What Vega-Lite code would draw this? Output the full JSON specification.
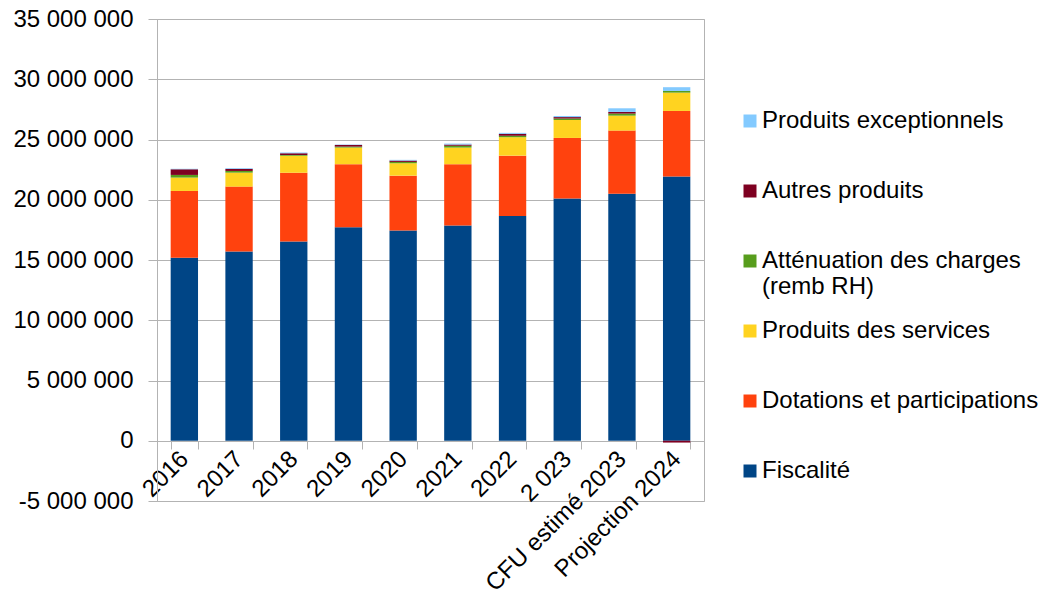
{
  "$schema": "https://vega.github.io/schema/vega-lite/v6.json",
  "width": 547,
  "height": 482,
  "autosize": "none",
  "padding": {"left": 157, "top": 19, "right": 345, "bottom": 107},
  "background": "white",
  "config": {
    "locale": {"number": {"decimal": ",", "thousands": " ", "grouping": [3], "currency": ["", " €"], "minus": "-"}},
    "font": "Liberation Sans",
    "view": {"stroke": "#b3b3b3", "strokeWidth": 1}
  },
  "data": {
    "values": [
      {"annee": "2016", "categorie": "Fiscalité", "valeur": 15180000},
      {"annee": "2016", "categorie": "Dotations et participations", "valeur": 5550000},
      {"annee": "2016", "categorie": "Produits des services", "valeur": 1110000},
      {"annee": "2016", "categorie": "Atténuation des charges (remb RH)", "valeur": 220000},
      {"annee": "2016", "categorie": "Autres produits", "valeur": 470000},
      {"annee": "2016", "categorie": "Produits exceptionnels", "valeur": 40000},
      {"annee": "2017", "categorie": "Fiscalité", "valeur": 15700000},
      {"annee": "2017", "categorie": "Dotations et participations", "valeur": 5390000},
      {"annee": "2017", "categorie": "Produits des services", "valeur": 1160000},
      {"annee": "2017", "categorie": "Atténuation des charges (remb RH)", "valeur": 140000},
      {"annee": "2017", "categorie": "Autres produits", "valeur": 170000},
      {"annee": "2017", "categorie": "Produits exceptionnels", "valeur": 60000},
      {"annee": "2018", "categorie": "Fiscalité", "valeur": 16530000},
      {"annee": "2018", "categorie": "Dotations et participations", "valeur": 5720000},
      {"annee": "2018", "categorie": "Produits des services", "valeur": 1410000},
      {"annee": "2018", "categorie": "Atténuation des charges (remb RH)", "valeur": 60000},
      {"annee": "2018", "categorie": "Autres produits", "valeur": 140000},
      {"annee": "2018", "categorie": "Produits exceptionnels", "valeur": 60000},
      {"annee": "2019", "categorie": "Fiscalité", "valeur": 17720000},
      {"annee": "2019", "categorie": "Dotations et participations", "valeur": 5230000},
      {"annee": "2019", "categorie": "Produits des services", "valeur": 1380000},
      {"annee": "2019", "categorie": "Atténuation des charges (remb RH)", "valeur": 80000},
      {"annee": "2019", "categorie": "Autres produits", "valeur": 140000},
      {"annee": "2019", "categorie": "Produits exceptionnels", "valeur": 30000},
      {"annee": "2020", "categorie": "Fiscalité", "valeur": 17440000},
      {"annee": "2020", "categorie": "Dotations et participations", "valeur": 4560000},
      {"annee": "2020", "categorie": "Produits des services", "valeur": 1030000},
      {"annee": "2020", "categorie": "Atténuation des charges (remb RH)", "valeur": 110000},
      {"annee": "2020", "categorie": "Autres produits", "valeur": 110000},
      {"annee": "2020", "categorie": "Produits exceptionnels", "valeur": 60000},
      {"annee": "2021", "categorie": "Fiscalité", "valeur": 17860000},
      {"annee": "2021", "categorie": "Dotations et participations", "valeur": 5090000},
      {"annee": "2021", "categorie": "Produits des services", "valeur": 1380000},
      {"annee": "2021", "categorie": "Atténuation des charges (remb RH)", "valeur": 150000},
      {"annee": "2021", "categorie": "Autres produits", "valeur": 100000},
      {"annee": "2021", "categorie": "Produits exceptionnels", "valeur": 80000},
      {"annee": "2022", "categorie": "Fiscalité", "valeur": 18660000},
      {"annee": "2022", "categorie": "Dotations et participations", "valeur": 5000000},
      {"annee": "2022", "categorie": "Produits des services", "valeur": 1530000},
      {"annee": "2022", "categorie": "Atténuation des charges (remb RH)", "valeur": 120000},
      {"annee": "2022", "categorie": "Autres produits", "valeur": 160000},
      {"annee": "2022", "categorie": "Produits exceptionnels", "valeur": 80000},
      {"annee": "2 023", "categorie": "Fiscalité", "valeur": 20100000},
      {"annee": "2 023", "categorie": "Dotations et participations", "valeur": 5030000},
      {"annee": "2 023", "categorie": "Produits des services", "valeur": 1490000},
      {"annee": "2 023", "categorie": "Atténuation des charges (remb RH)", "valeur": 120000},
      {"annee": "2 023", "categorie": "Autres produits", "valeur": 120000},
      {"annee": "2 023", "categorie": "Produits exceptionnels", "valeur": 90000},
      {"annee": "CFU estimé 2023", "categorie": "Fiscalité", "valeur": 20490000},
      {"annee": "CFU estimé 2023", "categorie": "Dotations et participations", "valeur": 5250000},
      {"annee": "CFU estimé 2023", "categorie": "Produits des services", "valeur": 1240000},
      {"annee": "CFU estimé 2023", "categorie": "Atténuation des charges (remb RH)", "valeur": 170000},
      {"annee": "CFU estimé 2023", "categorie": "Autres produits", "valeur": 140000},
      {"annee": "CFU estimé 2023", "categorie": "Produits exceptionnels", "valeur": 300000},
      {"annee": "Projection 2024", "categorie": "Fiscalité", "valeur": 21920000},
      {"annee": "Projection 2024", "categorie": "Dotations et participations", "valeur": 5450000},
      {"annee": "Projection 2024", "categorie": "Produits des services", "valeur": 1520000},
      {"annee": "Projection 2024", "categorie": "Atténuation des charges (remb RH)", "valeur": 140000},
      {"annee": "Projection 2024", "categorie": "Autres produits", "valeur": -150000},
      {"annee": "Projection 2024", "categorie": "Produits exceptionnels", "valeur": 310000}
    ]
  },
  "transform": [
    {"calculate": "indexof(['Fiscalité','Dotations et participations','Produits des services','Atténuation des charges (remb RH)','Autres produits','Produits exceptionnels'], datum.categorie)", "as": "ordre"}
  ],
  "mark": {"type": "bar"},
  "encoding": {
    "x": {
      "field": "annee",
      "type": "nominal",
      "sort": null,
      "scale": {"paddingInner": 0.5, "paddingOuter": 0.25},
      "axis": {
        "title": null,
        "offset": -60,
        "domainColor": "#b3b3b3",
        "tickColor": "#b3b3b3",
        "tickBand": "extent",
        "tickSize": 8,
        "labelAngle": -45,
        "labelAlign": "right",
        "labelBaseline": "middle",
        "labelFontSize": 24,
        "labelColor": "#000000",
        "labelPadding": 6,
        "labelLimit": 400,
        "labelOverlap": false
      }
    },
    "y": {
      "field": "valeur",
      "type": "quantitative",
      "stack": "zero",
      "scale": {"domain": [-5000000, 35000000], "nice": false, "zero": false},
      "axis": {
        "title": null,
        "values": [-5000000, 0, 5000000, 10000000, 15000000, 20000000, 25000000, 30000000, 35000000],
        "format": ",d",
        "grid": true,
        "gridColor": "#b3b3b3",
        "domainColor": "#b3b3b3",
        "tickColor": "#b3b3b3",
        "tickSize": 9,
        "labelPadding": 15,
        "labelFontSize": 24,
        "labelColor": "#000000"
      }
    },
    "color": {
      "field": "categorie",
      "type": "nominal",
      "scale": {
        "domain": ["Produits exceptionnels", "Autres produits", "Atténuation des charges (remb RH)", "Produits des services", "Dotations et participations", "Fiscalité"],
        "range": ["#83caff", "#7e0021", "#579d1c", "#ffd320", "#ff420e", "#004586"]
      },
      "legend": {
        "title": null,
        "orient": "none",
        "legendX": 581,
        "legendY": 90,
        "gridAlign": "all",
        "symbolType": "square",
        "symbolSize": 169,
        "symbolStrokeWidth": 0,
        "labelFontSize": 24,
        "labelColor": "#000000",
        "labelLimit": 400,
        "labelOffset": 0,
        "rowPadding": 20,
        "labelExpr": "datum.label == 'Atténuation des charges (remb RH)' ? ['Atténuation des charges', '(remb RH)'] : datum.label"
      }
    },
    "order": {"field": "ordre", "type": "quantitative"}
  }
}
